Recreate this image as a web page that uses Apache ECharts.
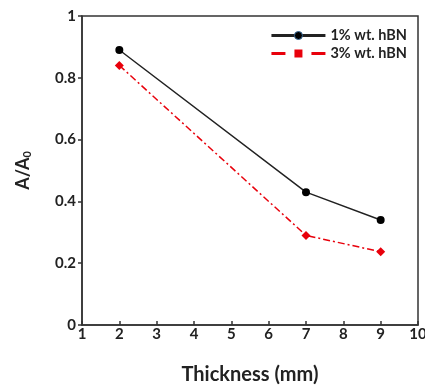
<!DOCTYPE html>
<html>
<head>
<meta charset="utf-8">
<script src="https://cdn.jsdelivr.net/npm/echarts@6/dist/echarts.min.js"></script>
<style>
  html, body { margin: 0; padding: 0; background: #fff; }
  #chart { width: 425px; height: 387px; }
</style>
</head>
<body>
<div id="chart"></div>
<script>
// thickness (mm)
const thickness = [2, 7, 9];
// A/A0 values
const hbn1 = [0.89, 0.43, 0.34];
const hbn3 = [0.84, 0.29, 0.237];
const xTicks = [1, 2, 3, 4, 5, 6, 7, 8, 9, 10];
const yTicks = [0, 0.2, 0.4, 0.6, 0.8, 1];

const FONT = 'Lato, "Open Sans", sans-serif';

const chart = echarts.init(document.getElementById('chart'), null, { renderer: 'canvas' });

const pairs = (xs, ys) => xs.map((x, i) => [x, ys[i]]);

const option = {
    animation: false,
    backgroundColor: '#fff',
    grid: {
        left: 82, right: 7, top: 16, bottom: 62,
        outerBoundsMode: 'none',
        show: true, borderColor: '#333', borderWidth: 1.5,
    },
    legend: {
        right: 13,
        top: 23,
        orient: 'vertical',
        itemGap: 3,
        itemWidth: 54,
        itemHeight: 10,
        textStyle: { fontFamily: FONT, fontWeight: 'bold', fontSize: 14.5, color: '#222' },
        data: [
            { name: '1% wt. hBN', lineStyle: { width: 3 }, itemStyle: { borderColor: '#3b6c9a', borderWidth: 1 } },
            { name: '3% wt. hBN', lineStyle: { width: 3, type: [14, 26] } },
        ],
    },
    xAxis: {
        type: 'value',
        min: 1,
        max: 10,
        interval: 1,
        name: 'Thickness (mm)',
        nameLocation: 'middle',
        nameGap: 40,
        nameTextStyle: { fontFamily: FONT, fontWeight: 'bold', fontSize: 20, color: '#222' },
        axisLine: { lineStyle: { color: '#333', width: 1.5 } },
        axisTick: { inside: true, length: 4, lineStyle: { color: '#333', width: 1.5 } },
        axisLabel: { fontFamily: FONT, fontWeight: 'bold', fontSize: 15, color: '#222', margin: 2,
            formatter: v => xTicks.includes(v) ? String(v) : '' },
        splitLine: { show: false },
    },
    yAxis: {
        type: 'value',
        min: 0,
        max: 1,
        interval: 0.2,
        name: '{a|A/A}{s|0}',
        nameLocation: 'middle',
        nameGap: 49,
        nameTextStyle: {
            rich: {
                a: { fontFamily: FONT, fontWeight: 'bold', fontSize: 18, color: '#222' },
                s: { fontFamily: FONT, fontWeight: 'bold', fontSize: 11, color: '#222', verticalAlign: 'bottom', padding: [9, 0, 0, 0] },
            },
        },
        axisLine: { lineStyle: { color: '#333', width: 1.5 } },
        axisTick: { inside: false, length: 4, lineStyle: { color: '#333', width: 1.5 } },
        axisLabel: { fontFamily: FONT, fontWeight: 'bold', fontSize: 15, color: '#222', margin: 6,
            formatter: v => { const t = yTicks.find(y => Math.abs(y - v) < 1e-6); return t === undefined ? '' : String(t); } },
        splitLine: { show: false },
    },
    series: [
        {
            name: '1% wt. hBN',
            type: 'line',
            data: pairs(thickness, hbn1),
            symbol: 'circle',
            symbolSize: 8,
            color: '#000',
            lineStyle: { color: '#222', width: 1.5 },
            itemStyle: { color: '#000' },
        },
        {
            name: '3% wt. hBN data',
            type: 'line',
            data: pairs(thickness, hbn3),
            symbol: 'diamond',
            symbolSize: 9,
            color: '#e8000b',
            lineStyle: { color: '#e8000b', width: 1.5, type: [7, 3, 2, 3] },
            itemStyle: { color: '#e8000b' },
        },
        {
            // legend entry only: the original key shows a square on a dashed line
            name: '3% wt. hBN',
            type: 'line',
            data: [],
            symbol: 'rect',
            symbolSize: 9,
            color: '#e8000b',
            lineStyle: { color: '#e8000b', width: 3, type: [14, 26] },
            itemStyle: { color: '#e8000b' },
        },
    ],
};

chart.setOption(option);
</script>
</body>
</html>
